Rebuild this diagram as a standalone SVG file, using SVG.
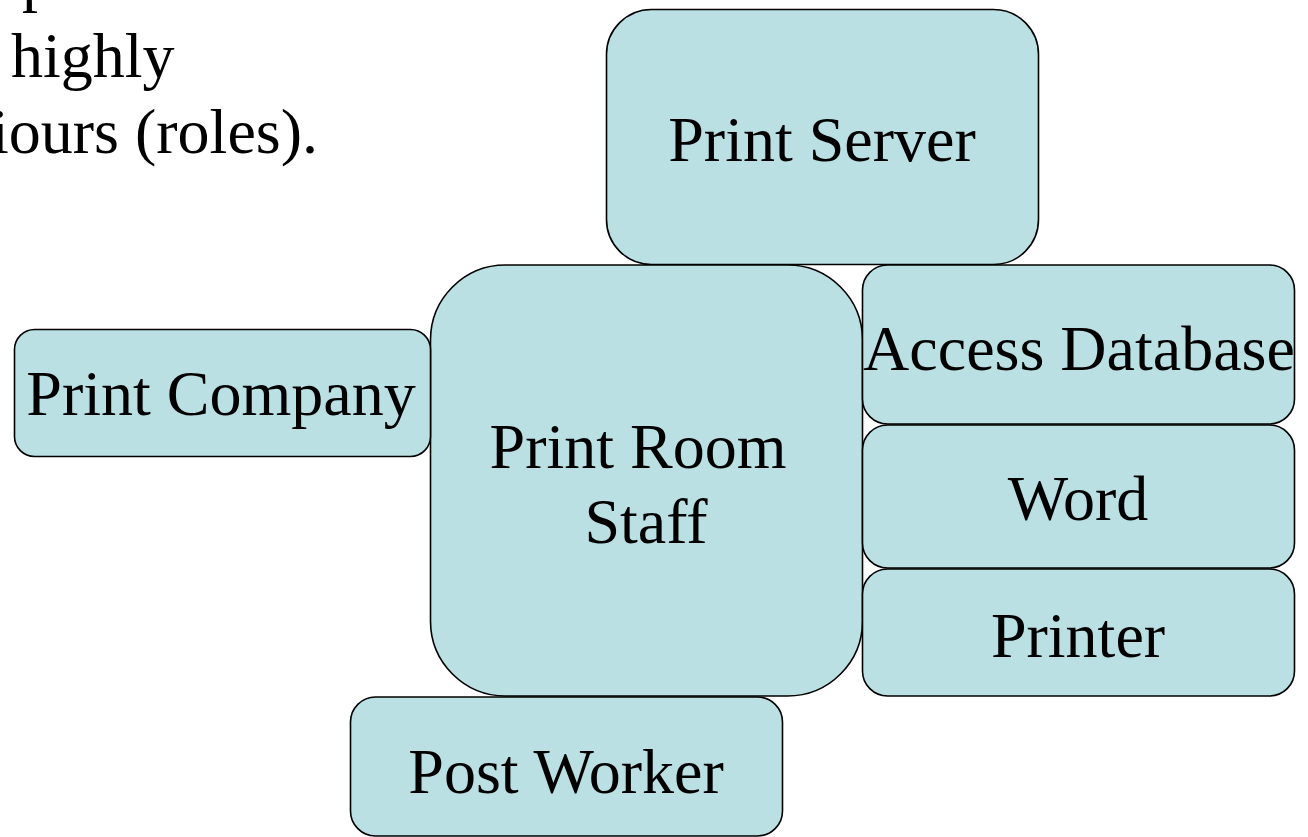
<svg xmlns="http://www.w3.org/2000/svg" width="1308" height="837" viewBox="0 0 1308 837">
<style>
.box{fill:#bae0e3;stroke:#000;stroke-width:1.6}
.t{font-family:"Liberation Serif","Times New Roman",serif;font-size:64px;fill:#000}
.c{text-anchor:middle}
</style>
<rect width="1308" height="837" fill="#fff"/>
<g id="caption">
<text class="t" x="22" y="-1">process</text>
<text class="t" x="11" y="77">highly</text>
<text class="t" x="318" y="153" text-anchor="end">iours (roles).</text>
</g>
<g id="connectors"></g>
<g id="print-server">
<rect class="box" x="606.5" y="9.5" width="432" height="255" rx="45" ry="45"/>
<text class="t c" x="822" y="161">Print Server</text>
</g>
<g id="print-room-staff">
<rect class="box" x="430.5" y="265" width="432" height="431" rx="75" ry="75"/>
<text class="t c" x="638" y="468">Print Room</text>
<text class="t c" x="646" y="543">Staff</text>
</g>
<g id="print-company">
<rect class="box" x="14.5" y="329.5" width="416" height="127" rx="20" ry="20"/>
<text class="t c" x="221" y="415">Print Company</text>
</g>
<g id="access-database">
<rect class="box" x="862.5" y="265" width="432" height="159" rx="25" ry="25"/>
<text class="t c" x="1079" y="370">Access Database</text>
</g>
<g id="word">
<rect class="box" x="862.5" y="425" width="432" height="143" rx="25" ry="25"/>
<text class="t c" x="1078" y="520">Word</text>
</g>
<g id="printer">
<rect class="box" x="862.5" y="569" width="432" height="127" rx="25" ry="25"/>
<text class="t c" x="1078" y="657">Printer</text>
</g>
<g id="post-worker">
<rect class="box" x="350.5" y="697" width="432" height="139" rx="25" ry="25"/>
<text class="t c" x="566" y="793">Post Worker</text>
</g>
</svg>
